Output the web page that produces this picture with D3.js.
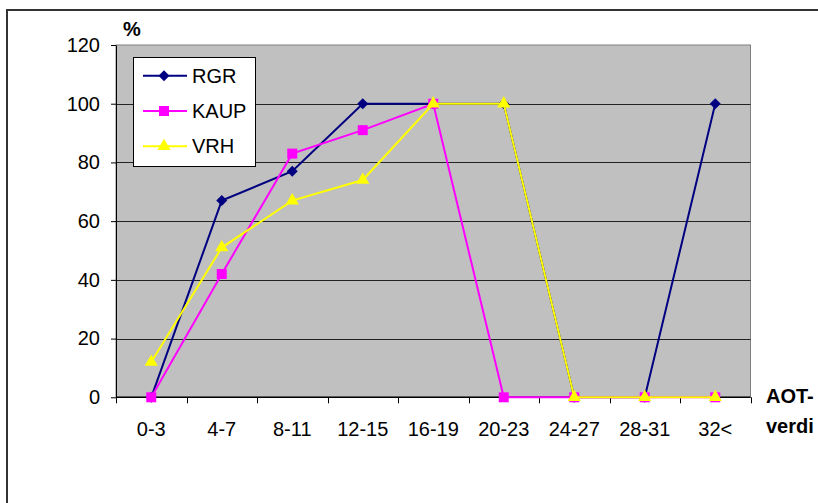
<!DOCTYPE html>
<html>
<head>
<meta charset="utf-8">
<script src="https://cdn.jsdelivr.net/npm/d3@7"></script>
<style>
  body { margin: 0; background: #fff; }
  text { font-family: "Liberation Sans", Arial, sans-serif; }
</style>
</head>
<body>
<div class="chart"></div>
<script>
const categories = ['0-3', '4-7', '8-11', '12-15', '16-19', '20-23', '24-27', '28-31', '32<'];
const rgr  = [0, 67, 77, 100, 100, 100, 0, 0, 100];
const kaup = [0, 42, 83, 91, 100, 0, 0, 0, 0];
const vrh  = [12, 51, 67, 74, 100, 100, 0, 0, 0];
const yTicks = [0, 20, 40, 60, 80, 100, 120];

const seriesList = [
  { name: 'RGR',  values: rgr,  color: '#000080', symbol: d3.symbolSquare,   size: 60, rotate: 45 },
  { name: 'KAUP', values: kaup, color: '#FF00FF', symbol: d3.symbolSquare,   size: 100, rotate: 0 },
  { name: 'VRH',  values: vrh,  color: '#FFFF00', symbol: d3.symbolTriangle, size: 75, rotate: 0 }
];

const width = 818, height = 503;
const plot = { left: 116, right: 750.5, top: 45, bottom: 397.3 };

const svg = d3.select('.chart')
  .append('svg')
  .attr('width', width)
  .attr('height', height);

// outer frame (only left/top edges visible)
svg.append('rect')
  .attr('x', 7).attr('y', 10)
  .attr('width', 900).attr('height', 600)
  .attr('fill', 'none')
  .attr('stroke', '#333')
  .attr('stroke-width', 2);

const x = d3.scaleBand()
  .domain(categories)
  .range([plot.left, plot.right])
  .padding(0);

const y = d3.scaleLinear()
  .domain([0, 120])
  .range([plot.bottom, plot.top]);

const cx = c => x(c) + x.bandwidth() / 2;

// plot background
svg.append('rect')
  .attr('x', plot.left).attr('y', plot.top)
  .attr('width', plot.right - plot.left)
  .attr('height', plot.bottom - plot.top)
  .attr('fill', '#C0C0C0')
  .attr('stroke', '#808080')
  .attr('stroke-width', 1);

// gridlines
svg.append('g')
  .selectAll('line')
  .data(yTicks.filter(v => v > 0 && v < 120))
  .join('line')
  .attr('x1', plot.left).attr('x2', plot.right)
  .attr('y1', d => Math.round(y(d)) + 0.5)
  .attr('y2', d => Math.round(y(d)) + 0.5)
  .attr('stroke', '#222')
  .attr('stroke-width', 1);

// y axis
const yAxis = svg.append('g')
  .attr('transform', `translate(${plot.left},0)`)
  .call(d3.axisLeft(y).tickValues(yTicks).tickSize(5).tickPadding(11).tickSizeOuter(0));
yAxis.select('.domain').attr('stroke', '#000');
yAxis.selectAll('.tick line').attr('stroke', '#000');
yAxis.selectAll('text')
  .attr('font-size', 20)
  .attr('fill', '#000')
  .style('font-family', '"Liberation Sans", Arial, sans-serif');

// x axis: labels at band centres, ticks at band edges
const xAxis = svg.append('g')
  .attr('transform', `translate(0,${plot.bottom})`);
xAxis.append('line')
  .attr('x1', plot.left).attr('x2', plot.right)
  .attr('y1', 0).attr('y2', 0)
  .attr('stroke', '#000').attr('stroke-width', 1.5);
const edges = categories.map(c => x(c)).concat([plot.right]);
xAxis.selectAll('line.tick')
  .data(edges)
  .join('line')
  .attr('class', 'tick')
  .attr('x1', d => Math.round(d) + 0.5).attr('x2', d => Math.round(d) + 0.5)
  .attr('y1', 0).attr('y2', 6)
  .attr('stroke', '#000');
xAxis.selectAll('text')
  .data(categories)
  .join('text')
  .attr('x', d => cx(d))
  .attr('y', 39)
  .attr('text-anchor', 'middle')
  .attr('font-size', 20)
  .attr('fill', '#000')
  .text(d => d);

// axis titles
svg.append('text')
  .attr('x', 123).attr('y', 36)
  .attr('font-size', 20).attr('font-weight', 'bold')
  .text('%');
svg.append('text')
  .attr('x', 766).attr('y', 403)
  .attr('font-size', 20).attr('font-weight', 'bold')
  .text('AOT-');
svg.append('text')
  .attr('x', 766).attr('y', 433)
  .attr('font-size', 20).attr('font-weight', 'bold')
  .text('verdi');

// series
const line = d3.line()
  .x((d, i) => cx(categories[i]))
  .y(d => y(d));

seriesList.forEach(s => {
  const g = svg.append('g');
  g.append('path')
    .datum(s.values)
    .attr('d', line)
    .attr('fill', 'none')
    .attr('stroke', s.color)
    .attr('stroke-width', 2);
  g.selectAll('path.marker')
    .data(s.values)
    .join('path')
    .attr('class', 'marker')
    .attr('d', d3.symbol().type(s.symbol).size(s.size))
    .attr('transform', (d, i) => `translate(${cx(categories[i])},${y(d)}) rotate(${s.rotate})`)
    .attr('fill', s.color);
});

// legend
const legend = svg.append('g');
legend.append('rect')
  .attr('x', 133.5).attr('y', 57.5)
  .attr('width', 122).attr('height', 109)
  .attr('fill', '#fff')
  .attr('stroke', '#000');
const rows = legend.selectAll('g.row')
  .data(seriesList)
  .join('g')
  .attr('class', 'row')
  .attr('transform', (d, i) => `translate(0,${75.7 + i * 35.3})`);
rows.append('line')
  .attr('x1', 143).attr('x2', 187)
  .attr('y1', 0).attr('y2', 0)
  .attr('stroke', d => d.color)
  .attr('stroke-width', 2);
rows.append('path')
  .attr('d', d => d3.symbol().type(d.symbol).size(d.size)())
  .attr('transform', d => `translate(164,0) rotate(${d.rotate})`)
  .attr('fill', d => d.color);
rows.append('text')
  .attr('x', 192)
  .attr('y', 7)
  .attr('font-size', 20)
  .attr('fill', '#000')
  .text(d => d.name);
</script>
</body>
</html>
